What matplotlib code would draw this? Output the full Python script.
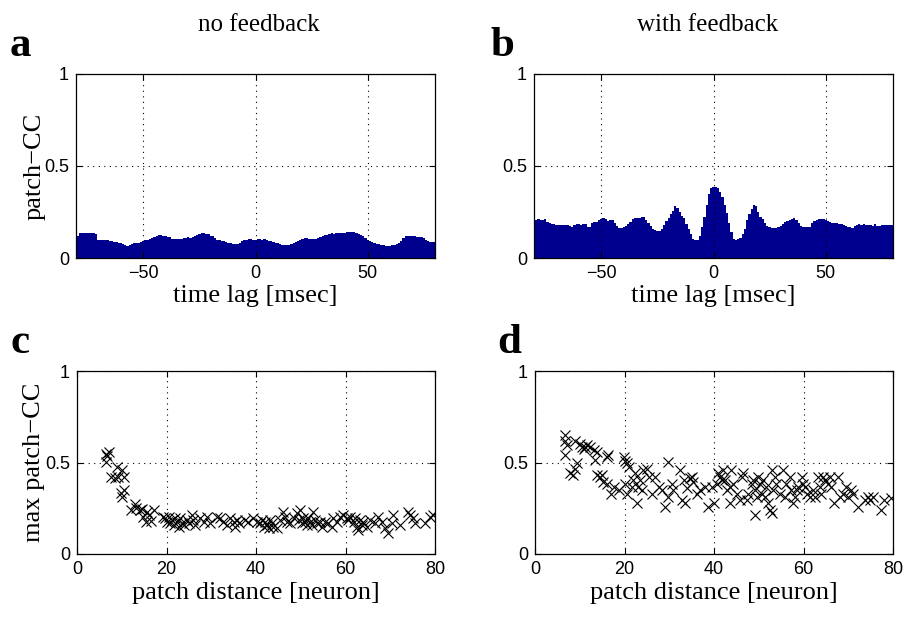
import numpy as np
import matplotlib
matplotlib.use('Agg')
import matplotlib.pyplot as plt

# time lag axis, 1 msec bins
lags = np.arange(-80, 81)

cc_no_fb = [
    0.12, 0.12, 0.135, 0.137, 0.136, 0.136, 0.137, 0.135, 0.135, 0.13,
    0.10, 0.10, 0.10, 0.098, 0.096, 0.09, 0.09, 0.088, 0.085, 0.08,
    0.08, 0.075, 0.068, 0.066, 0.068, 0.075, 0.08, 0.08, 0.082, 0.085,
    0.09, 0.098, 0.10, 0.105, 0.11, 0.112, 0.118, 0.125, 0.125, 0.122,
    0.12, 0.116, 0.112, 0.105, 0.103, 0.103, 0.104, 0.103, 0.106, 0.11,
    0.112, 0.11, 0.112, 0.118, 0.125, 0.13, 0.134, 0.136, 0.13, 0.128,
    0.12, 0.118, 0.11, 0.10, 0.10, 0.095, 0.09, 0.085, 0.083, 0.08,
    0.075, 0.074, 0.076, 0.083, 0.09, 0.098, 0.10, 0.104, 0.102, 0.10,
    0.10, 0.103, 0.104, 0.10, 0.103, 0.10, 0.095, 0.094, 0.088, 0.08,
    0.08, 0.075, 0.07, 0.07, 0.072, 0.07, 0.075, 0.082, 0.089, 0.095,
    0.10, 0.105, 0.107, 0.106, 0.104, 0.103, 0.105, 0.103, 0.11, 0.115,
    0.12, 0.123, 0.125, 0.13, 0.134, 0.133, 0.135, 0.134, 0.136, 0.137,
    0.138, 0.14, 0.143, 0.144, 0.142, 0.135, 0.13, 0.125, 0.118, 0.11,
    0.098, 0.09, 0.085, 0.08, 0.076, 0.075, 0.072, 0.068, 0.066, 0.065,
    0.066, 0.068, 0.07, 0.075, 0.08, 0.09, 0.107, 0.118, 0.121, 0.122,
    0.12, 0.118, 0.115, 0.112, 0.116, 0.11, 0.10, 0.092, 0.089, 0.085,
    0.088,
]

cc_with_fb = [
    0.205, 0.206, 0.21, 0.208, 0.207, 0.21, 0.195, 0.188, 0.185, 0.185,
    0.182, 0.18, 0.182, 0.18, 0.181, 0.18, 0.172, 0.17, 0.178, 0.183,
    0.184, 0.182, 0.183, 0.185, 0.168, 0.167, 0.19, 0.195, 0.198, 0.205,
    0.212, 0.215, 0.21, 0.20, 0.208, 0.205, 0.19, 0.175, 0.162, 0.165,
    0.17, 0.172, 0.185, 0.197, 0.21, 0.215, 0.215, 0.22, 0.225, 0.222,
    0.205, 0.19, 0.175, 0.16, 0.153, 0.147, 0.148, 0.16, 0.18, 0.20,
    0.215, 0.24, 0.258, 0.28, 0.27, 0.25, 0.23, 0.215, 0.185, 0.155,
    0.13, 0.105, 0.098, 0.10, 0.12, 0.17, 0.225, 0.29, 0.35, 0.38,
    0.388, 0.385, 0.38, 0.36, 0.33, 0.29, 0.243, 0.19, 0.14, 0.105,
    0.10, 0.103, 0.11, 0.13, 0.16, 0.205, 0.24, 0.268, 0.288, 0.28,
    0.25, 0.225, 0.21, 0.19, 0.175, 0.168, 0.162, 0.161, 0.165, 0.167,
    0.175, 0.185, 0.195, 0.20, 0.205, 0.21, 0.215, 0.205, 0.19, 0.175,
    0.168, 0.166, 0.167, 0.17, 0.19, 0.20, 0.205, 0.21, 0.212, 0.21,
    0.207, 0.20, 0.197, 0.19, 0.19, 0.188, 0.183, 0.183, 0.18, 0.172,
    0.17, 0.168, 0.163, 0.175, 0.18, 0.183, 0.182, 0.183, 0.18, 0.182,
    0.18, 0.176, 0.183, 0.175, 0.172, 0.18, 0.178, 0.178, 0.179, 0.18,
    0.182,
]

# max patch-CC vs patch distance, no feedback
dist_c = [6.5, 6.8, 6.4, 7.1, 7.7, 8.6, 9.1, 8.9, 10.0, 10.6, 9.8, 10.6, 10.0,
          12.1, 12.9, 13.2, 14.0, 14.5, 14.8, 15.6, 16.2, 16.6, 17.1, 15.4,
          19.3, 19.7, 20.1, 20.5, 20.8, 21.2, 21.6, 21.9, 22.3, 22.7, 23.1,
          23.4, 23.8, 24.6, 25.0, 25.7, 26.0, 26.4, 27.5, 28.3, 29.0, 29.8,
          31.3, 32.0, 32.7, 33.5, 34.2, 35.0, 35.3, 35.7, 36.1, 37.6, 38.3,
          39.4, 40.2, 40.9, 41.3, 41.7, 42.0, 42.4, 42.8, 43.2, 43.5, 43.9,
          44.6, 45.4, 46.1, 46.5, 47.0, 47.6, 48.4, 49.1, 49.5, 49.9, 50.2,
          50.6, 51.0, 51.3, 51.7, 52.1, 52.5, 52.8, 53.2, 53.6, 54.3, 54.7,
          55.4, 56.2, 56.9, 57.3, 58.0, 58.8, 59.5, 60.3, 60.6, 61.0, 61.8,
          62.1, 62.5, 62.9, 63.2, 63.6, 64.0, 64.7, 65.5, 66.6, 67.3, 68.1,
          68.8, 69.6, 70.3, 70.7, 72.2, 74.0, 74.4, 75.1, 75.5, 77.7, 78.8,
          79.6]
maxcc_c = [0.549, 0.535, 0.504, 0.558, 0.422, 0.413, 0.422, 0.476, 0.458, 0.422,
           0.331, 0.349, 0.313, 0.24, 0.273, 0.249, 0.24, 0.245, 0.204, 0.231,
           0.213, 0.182, 0.24, 0.176, 0.204, 0.195, 0.176, 0.204, 0.167, 0.185,
           0.158, 0.195, 0.176, 0.149, 0.195, 0.167, 0.158, 0.185, 0.167, 0.213,
           0.185, 0.158, 0.195, 0.176, 0.204, 0.167, 0.204, 0.195, 0.176, 0.158,
           0.195, 0.176, 0.149, 0.185, 0.167, 0.185, 0.176, 0.195, 0.176, 0.167,
           0.185, 0.149, 0.176, 0.158, 0.14, 0.185, 0.167, 0.149, 0.14, 0.185,
           0.231, 0.204, 0.176, 0.167, 0.195, 0.222, 0.185, 0.24, 0.167, 0.195,
           0.176, 0.158, 0.195, 0.176, 0.158, 0.231, 0.185, 0.167, 0.176, 0.149,
           0.176, 0.167, 0.149, 0.195, 0.176, 0.204, 0.213, 0.195, 0.185, 0.204,
           0.176, 0.195, 0.149, 0.131, 0.185, 0.158, 0.176, 0.149, 0.185, 0.167,
           0.204, 0.176, 0.14, 0.113, 0.167, 0.213, 0.158, 0.231, 0.213, 0.195,
           0.167, 0.167, 0.204, 0.213]

# max patch-CC vs patch distance, with feedback
dist_d = [6.8, 6.8, 7.1, 6.8, 7.9, 9.0, 9.0, 9.4, 8.6, 10.1, 10.5, 10.9, 11.2,
          11.6, 12.3, 13.1, 13.5, 13.8, 13.8, 14.6, 14.9, 15.3, 16.1, 16.1,
          16.4, 17.0, 17.7, 18.8, 19.8, 20.2, 20.5, 20.9, 20.2, 20.5, 21.6,
          22.0, 22.4, 22.8, 23.1, 23.5, 23.9, 24.2, 25.0, 25.4, 26.1, 26.8,
          27.6, 28.3, 29.1, 29.8, 29.8, 30.6, 30.9, 32.4, 32.8, 33.2, 33.5,
          33.9, 34.6, 35.0, 35.4, 36.1, 36.9, 38.0, 38.7, 39.5, 39.9, 40.6,
          41.0, 41.3, 41.7, 42.1, 42.5, 42.8, 43.6, 43.6, 43.9, 44.3, 45.1,
          45.8, 46.2, 46.5, 47.3, 47.7, 48.4, 48.8, 49.2, 49.2, 49.5, 49.9,
          50.3, 50.7, 51.0, 51.4, 51.7, 52.1, 52.5, 52.9, 52.9, 53.2, 53.6,
          53.9, 54.7, 55.4, 55.8, 56.2, 56.9, 57.3, 57.7, 58.1, 58.5, 58.8,
          59.6, 59.9, 60.3, 60.7, 61.4, 62.2, 62.5, 63.3, 63.7, 64.0, 64.4,
          64.8, 65.5, 65.9, 66.2, 66.9, 67.7, 68.1, 68.8, 69.6, 70.0, 70.7,
          71.1, 72.2, 73.7, 74.4, 74.8, 75.5, 77.3, 78.1, 79.6]
maxcc_d = [0.649, 0.62, 0.595, 0.54, 0.44, 0.62, 0.467, 0.495, 0.43, 0.60,
           0.585, 0.576, 0.585, 0.595, 0.585, 0.567, 0.513, 0.558, 0.43, 0.42,
           0.43, 0.395, 0.385, 0.53, 0.54, 0.33, 0.367, 0.35, 0.53, 0.51,
           0.495, 0.476, 0.385, 0.33, 0.367, 0.404, 0.44, 0.276, 0.367, 0.404,
           0.35, 0.458, 0.467, 0.42, 0.33, 0.42, 0.367, 0.35, 0.258, 0.504,
           0.313, 0.385, 0.35, 0.458, 0.295, 0.404, 0.276, 0.358, 0.413, 0.42,
           0.395, 0.33, 0.35, 0.367, 0.258, 0.367, 0.276, 0.385, 0.44, 0.42,
           0.404, 0.458, 0.404, 0.35, 0.367, 0.276, 0.458, 0.385, 0.33, 0.295,
           0.42, 0.44, 0.295, 0.33, 0.385, 0.404, 0.35, 0.213, 0.313, 0.42,
           0.385, 0.33, 0.404, 0.313, 0.367, 0.276, 0.24, 0.458, 0.222, 0.35,
           0.42, 0.385, 0.33, 0.458, 0.313, 0.385, 0.42, 0.35, 0.276, 0.313,
           0.35, 0.367, 0.42, 0.385, 0.367, 0.33, 0.313, 0.35, 0.313, 0.42,
           0.367, 0.33, 0.42, 0.404, 0.385, 0.42, 0.367, 0.276, 0.42, 0.313,
           0.33, 0.367, 0.313, 0.35, 0.33, 0.258, 0.295, 0.313, 0.295, 0.313,
           0.24, 0.295, 0.304]

serif = 'Liberation Serif'
sans = 'Liberation Sans'
bar_color = '#00008F'

fig = plt.figure(figsize=(9.09, 6.17), dpi=100)

W, H = 909, 617
def add_ax(left, top, right, bottom):
    return fig.add_axes([left / W, 1 - bottom / H, (right - left) / W, (bottom - top) / H])

ax_a = add_ax(76, 74, 435, 258)
ax_b = add_ax(534, 74, 893, 258)
ax_c = add_ax(77, 371, 435, 554)
ax_d = add_ax(535, 371, 893, 554)


def style(ax, xticks, xlim):
    ax.set_xlim(*xlim)
    ax.set_ylim(0, 1)
    ax.set_xticks(xticks)
    ax.set_yticks([0, 0.5, 1])
    ax.set_yticklabels(['0', '0.5', '1'])
    ax.tick_params(direction='in', top=True, right=True, length=4, width=0.8,
                   labelsize=13, pad=5)
    for lab in ax.get_xticklabels() + ax.get_yticklabels():
        lab.set_fontfamily(sans)
    ax.grid(True, linestyle=(0, (1, 4)), color='black', linewidth=0.8)
    ax.set_axisbelow(False)
    for s in ax.spines.values():
        s.set_linewidth(0.9)


for ax, vals in [(ax_a, cc_no_fb), (ax_b, cc_with_fb)]:
    ax.bar(lags, vals, width=1.0, color=bar_color, linewidth=0)
    style(ax, [-50, 0, 50], (-80, 80))
    ax.set_xlabel('time lag [msec]', fontfamily=serif, fontsize=19, labelpad=2)

for ax, xs, ys in [(ax_c, dist_c, maxcc_c), (ax_d, dist_d, maxcc_d)]:
    ax.plot(xs, ys, 'x', color='black', markersize=7.5, markeredgewidth=0.8)
    style(ax, [0, 20, 40, 60, 80], (0, 80))
    ax.set_xlabel('patch distance [neuron]', fontfamily=serif, fontsize=19, labelpad=3)

ax_a.set_ylabel('patch\u2212CC', fontfamily=serif, fontsize=19)
ax_c.set_ylabel('max patch\u2212CC', fontfamily=serif, fontsize=19)
ax_a.yaxis.set_label_coords(-0.085, 0.5)
ax_c.yaxis.set_label_coords(-0.088, 0.5)

fig.text(259 / W, 1 - 25 / H, 'no feedback', ha='center', va='center',
         fontfamily=serif, fontsize=18)
fig.text(708 / W, 1 - 25 / H, 'with feedback', ha='center', va='center',
         fontfamily=serif, fontsize=18)

for letter, x, y in [('a', 10, 56), ('b', 490, 56), ('c', 10, 353), ('d', 497, 353)]:
    fig.text(x / W, 1 - y / H, letter, ha='left', va='baseline',
             fontfamily=serif, fontweight='bold', fontsize=31)

fig.savefig('out.png', dpi=100)
